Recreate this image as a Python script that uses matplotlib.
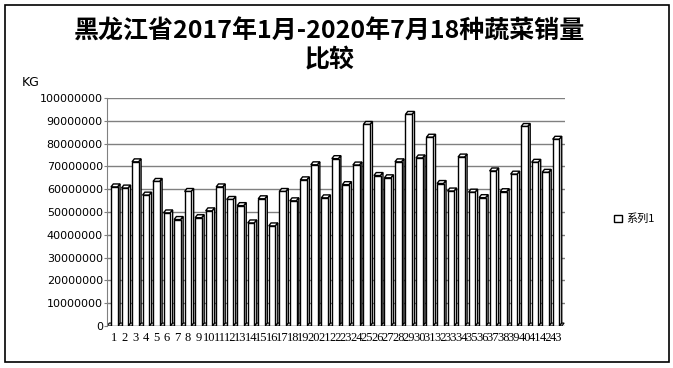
import matplotlib.pyplot as plt
from matplotlib.patches import Polygon, Rectangle

plt.rcParams['font.family'] = ['Noto Sans CJK SC', 'DejaVu Sans']

months = list(range(1, 44))
sales = [61.0, 60.5, 72.0, 57.4, 63.4, 49.6, 46.7, 59.0, 47.5, 50.5,
         61.0, 55.5, 52.8, 45.2, 55.8, 43.9, 59.0, 54.9, 64.1, 70.7,
         56.2, 73.4, 62.0, 70.6, 88.4, 66.0, 65.0, 72.0, 92.8, 73.7,
         82.8, 62.5, 59.2, 74.1, 58.7, 56.3, 68.0, 58.9, 66.6, 87.5,
         71.8, 67.4, 81.9]
sales = [v * 1e6 for v in sales]
yticks = list(range(0, 100000001, 10000000))

fig = plt.figure(figsize=(6.73, 3.68), dpi=100)
ax = fig.add_axes([107/673, 1-326/368, (565-107)/673, (326-98)/368])

w = 0.64
dx = 0.22
dy = 1.3e6

# back wall gridlines
for t in yticks:
    ax.axhline(t, color='#808080', lw=1, zorder=0)

# floor
ax.add_patch(Polygon([(0.3, 0), (43.55, 0), (43.55 + dx, dy), (0.3 + dx, dy)],
                     closed=True, fc='#d0d0d0', ec='black', lw=0.8, zorder=1))

bars = ax.bar(months, sales, width=w, color='white', edgecolor='black',
              lw=1.0, zorder=3, label='系列1')
for x, v in zip(months, sales):
    l, r = x - w/2, x + w/2
    top = Polygon([(l, v), (r, v), (r + dx, v + dy), (l + dx, v + dy)],
                  closed=True, fc='white', ec='black', lw=1.0, zorder=2)
    side = Polygon([(r, 0), (r + dx, dy), (r + dx, v + dy), (r, v)],
                   closed=True, fc='white', ec='black', lw=1.0, zorder=2)
    ax.add_patch(top)
    ax.add_patch(side)

ax.set_xlim(0.3, 43.85)
ax.set_ylim(0, 100000000)
ax.set_yticks(yticks)
ax.set_yticklabels([str(t) for t in yticks], family='DejaVu Sans', fontsize=8)
ax.set_xticks(months)
ax.set_xticklabels([str(m) for m in months], family='Liberation Serif', fontsize=9)
ax.tick_params(axis='y', length=2, pad=1, color='#808080')
ax.tick_params(axis='x', length=0, pad=4)
for s in ['top', 'right']:
    ax.spines[s].set_visible(False)
ax.spines['left'].set_color('#808080')
ax.spines['bottom'].set_visible(False)

fig.text(330/673, 1-46/368, '黑龙江省2017年1月-2020年7月18种蔬菜销量\n比较',
         ha='center', va='center', fontsize=18, fontweight='bold', linespacing=1.2)
fig.text(22/673, 1-83/368, 'KG', fontsize=9, va='center', family='DejaVu Sans')

fig.legend(handles=[bars], labels=['系列1'], loc='center left',
           bbox_to_anchor=(604/673, 1-219/368), frameon=False,
           handlelength=0.7, handleheight=0.7, handletextpad=0.4, fontsize=8)

fig.patches.append(Rectangle((5/673, 1-362/368), 664/673, 357/368,
                             transform=fig.transFigure, fill=False,
                             ec='black', lw=1.2))

fig.savefig('out.png', dpi=100)
